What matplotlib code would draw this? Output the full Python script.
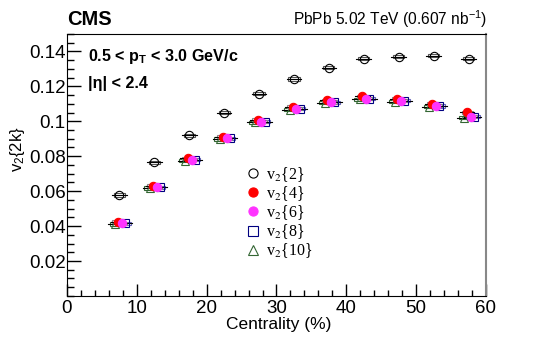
import matplotlib
matplotlib.use('Agg')
import matplotlib.pyplot as plt
from matplotlib.patches import Rectangle
from matplotlib.font_manager import FontProperties
from matplotlib.ticker import MultipleLocator, FuncFormatter

# centrality bins (bin centres, %)
cent = [7.5, 12.5, 17.5, 22.5, 27.5, 32.5, 37.5, 42.5, 47.5, 52.5, 57.5]

v2_2 = [0.0578, 0.0766, 0.0920, 0.1050, 0.1158, 0.1242, 0.1306, 0.1357, 0.1370, 0.1375, 0.1357]
v2_4 = [0.0425, 0.0630, 0.0788, 0.0910, 0.1008, 0.1082, 0.1120, 0.1142, 0.1130, 0.1100, 0.1052]
v2_6 = [0.0416, 0.0623, 0.0780, 0.0903, 0.0998, 0.1072, 0.1110, 0.1130, 0.1118, 0.1088, 0.1027]
v2_8 = [0.0416, 0.0622, 0.0779, 0.0902, 0.0997, 0.1071, 0.1109, 0.1129, 0.1117, 0.1087, 0.1026]
v2_10 = [0.0412, 0.0618, 0.0775, 0.0898, 0.0993, 0.1067, 0.1105, 0.1125, 0.1113, 0.1083, 0.1021]

labels = ['v$_2${2}', 'v$_2${4}', 'v$_2${6}', 'v$_2${8}', 'v$_2${10}']

plt.rcParams['font.family'] = 'Liberation Sans'
plt.rcParams['mathtext.fontset'] = 'custom'
plt.rcParams['mathtext.rm'] = 'Liberation Sans'
plt.rcParams['mathtext.it'] = 'Liberation Sans:italic'
plt.rcParams['mathtext.bf'] = 'Liberation Sans:bold'

fig = plt.figure(figsize=(5.4, 3.39), dpi=100)
ax = fig.add_axes([0.124, 0.127, 0.776, 0.773])

# series: data, x offset, marker, face, edge, box colour
series = [
    (v2_2, 0.0, 'o', 'none', 'black', '#555555'),
    (v2_4, -0.2, 'o', '#ff0000', '#ff0000', '#888888'),
    (v2_6, 0.35, 'o', '#ff33ff', '#ff33ff', '#888888'),
    (v2_8, 0.8, 's', 'none', '#000080', '#6666bb'),
    (v2_10, -0.6, '^', 'none', '#336633', '#336633'),
]
# draw order as in the reference: v2{10} and v2{8} under the filled circles
order = [0, 4, 3, 1, 2]
handles = [None] * 5
for i in order:
    vals, dx, mk, fc, ec, bc = series[i]
    for c, v in zip(cent, vals):
        ax.add_patch(Rectangle((c + dx - 0.8, v - 0.0009), 1.6, 0.0018,
                               facecolor='none', edgecolor=bc, lw=0.8, zorder=2))
        ax.plot([c + dx - 1.05, c + dx + 1.05], [v, v], color='black', lw=0.8, zorder=3)
    h, = ax.plot([c + dx for c in cent], vals, linestyle='none', marker=mk,
                 markersize=6, markerfacecolor=fc, markeredgecolor=ec,
                 markeredgewidth=0.8, zorder=4, label=labels[i])
    handles[i] = h

ax.set_xlim(0, 60)
ax.set_ylim(0, 0.15)
ax.xaxis.set_major_locator(MultipleLocator(10))
ax.xaxis.set_minor_locator(MultipleLocator(2))
ax.set_yticks([0.02, 0.04, 0.06, 0.08, 0.1, 0.12, 0.14])
ax.yaxis.set_minor_locator(MultipleLocator(0.005))
ax.yaxis.set_major_formatter(FuncFormatter(lambda v, p: '%g' % round(v, 3)))
ax.tick_params(which='both', direction='in', top=False, right=False,
               labelsize=13.5, width=1)
ax.tick_params(axis='y', which='major', length=10, pad=1)
ax.tick_params(axis='y', which='minor', length=5)
ax.tick_params(axis='x', which='major', length=9, pad=3)
ax.tick_params(axis='x', which='minor', length=4)
ax.spines['right'].set_color('#888888')
ax.spines['right'].set_linewidth(1.5)

ax.set_xlabel('Centrality (%)', fontsize=12.5, labelpad=-1)
ax.xaxis.set_label_coords(0.505, -0.08)
fig.text(0.032, 0.56, 'v$_2${2k}', rotation=90, fontsize=12, ha='center', va='center')

fig.text(0.124, 0.925, 'CMS', fontsize=14.5, fontweight='bold', ha='left', va='baseline')
fig.text(0.902, 0.925, 'PbPb 5.02 TeV (0.607 nb$^{-1}$)', fontsize=11.2,
         ha='right', va='baseline')
ax.text(0.05, 0.895, r'0.5 < p$_{\mathbf{T}}$ < 3.0 GeV/c', transform=ax.transAxes,
        fontsize=11.6, fontweight='bold', ha='left', va='baseline')
ax.text(0.05, 0.795, '|\u03b7| < 2.4', transform=ax.transAxes,
        fontsize=11.6, fontweight='bold', ha='left', va='baseline')

leg_font = FontProperties(family='Liberation Serif', size=11.5, math_fontfamily='stix')
ax.legend(handles=handles, loc='upper left', bbox_to_anchor=(0.41, 0.53),
          frameon=False, prop=leg_font, handlelength=0.8, handletextpad=0.4,
          labelspacing=0.02, borderpad=0, markerscale=1.1)

fig.savefig('out.png', dpi=100)
